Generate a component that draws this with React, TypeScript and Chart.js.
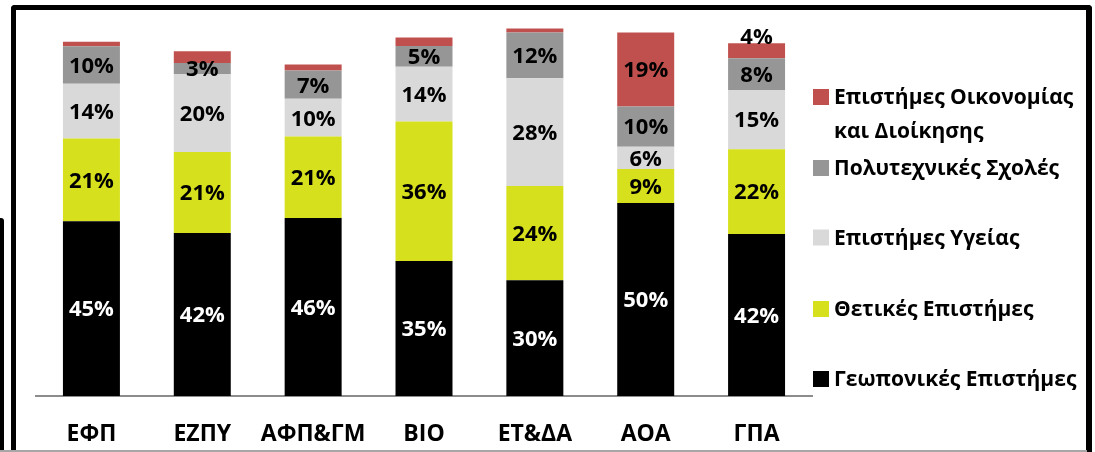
import React, { useEffect, useRef } from "react";
import { Chart, registerables } from "chart.js";

Chart.register(...registerables);

const categories = ["ΕΦΠ", "ΕΖΠΥ", "ΑΦΠ&ΓΜ", "ΒΙΟ", "ΕΤ&ΔΑ", "ΑΟΑ", "ΓΠΑ"];
const geoponikes = [45.3, 42.2, 46.1, 35.0, 30.0, 50.0, 42.0];
const thetikes = [21.4, 21.0, 21.1, 36.1, 24.4, 8.8, 21.9];
const ygeias = [14.2, 20.2, 9.8, 14.2, 27.9, 5.8, 15.4];
const polytexnikes = [9.7, 2.9, 7.3, 5.4, 11.9, 10.4, 8.2];
const oikonomias = [1.2, 3.0, 1.6, 2.2, 1.0, 19.2, 3.9];
const oikonomiasLabels = ["", "", "", "", "", "19%", "4%"];

const seriesNames = [
  "Γεωπονικές Επιστήμες",
  "Θετικές Επιστήμες",
  "Επιστήμες Υγείας",
  "Πολυτεχνικές Σχολές",
  "Επιστήμες Οικονομίας και Διοίκησης",
];

const FONT = "'Open Sans', 'Noto Sans', sans-serif";
const CAP = 0.714;

const pct = (arr: number[]) => arr.map((v) => Math.round(v) + "%");

const valueLabelPlugin = {
  id: "valueLabels",
  afterDatasetsDraw(chart: any) {
    const ctx = chart.ctx;
    const size = 22;
    ctx.save();
    ctx.font = `bold ${size}px ${FONT}`;
    ctx.textAlign = "center";
    ctx.textBaseline = "alphabetic";
    const last = chart.data.datasets.length - 1;
    chart.data.datasets.forEach((ds: any, di: number) => {
      const meta = chart.getDatasetMeta(di);
      meta.data.forEach((bar: any, i: number) => {
        const text = ds.valueText[i];
        if (!text) return;
        const { x, y, base } = bar.getProps(["x", "y", "base"], true);
        let cy = (y + base) / 2;
        if (di === last && Math.abs(base - y) < 20) cy = y - 7;
        ctx.fillStyle = ds.labelColor;
        ctx.fillText(text, x, cy + (size * CAP) / 2);
      });
    });
    ctx.restore();
  },
};

const sideLegendPlugin = {
  id: "sideLegend",
  afterDraw(chart: any) {
    const ctx = chart.ctx;
    const size = 21;
    const rowCenters = [97, 168, 237.5, 309, 379];
    const lineGap = 34;
    const boxX = 813;
    const textX = 834;
    const maxW = 256;
    ctx.save();
    ctx.font = `bold ${size}px ${FONT}`;
    ctx.textAlign = "left";
    ctx.textBaseline = "alphabetic";
    const n = chart.data.datasets.length;
    for (let k = 0; k < n; k++) {
      const ds = chart.data.datasets[n - 1 - k];
      const cy = rowCenters[k];
      ctx.fillStyle = ds.backgroundColor;
      ctx.fillRect(boxX, cy - 8, 16, 16);
      const words = String(ds.label).split(" ");
      const lines: string[] = [];
      let cur = "";
      words.forEach((w) => {
        const t = cur ? cur + " " + w : w;
        if (ctx.measureText(t).width > maxW && cur) {
          lines.push(cur);
          cur = w;
        } else cur = t;
      });
      if (cur) lines.push(cur);
      ctx.fillStyle = "#000";
      lines.forEach((ln, j) => {
        ctx.fillText(ln, textX, cy + j * lineGap + (size * CAP) / 2);
      });
    }
    ctx.restore();
  },
};

export default function App() {
  const ref = useRef<HTMLCanvasElement | null>(null);

  useEffect(() => {
    if (!ref.current) return;
    const mk = (label: string, data: number[], color: string, labelColor: string, text: string[]) => ({
      label,
      data,
      backgroundColor: color,
      borderWidth: 0,
      labelColor,
      valueText: text,
    });
    const chart = new Chart(ref.current, {
      type: "bar",
      data: {
        labels: categories,
        datasets: [
          mk(seriesNames[0], geoponikes, "#000000", "#ffffff", pct(geoponikes)),
          mk(seriesNames[1], thetikes, "#D6E01C", "#000000", pct(thetikes)),
          mk(seriesNames[2], ygeias, "#D9D9D9", "#000000", pct(ygeias)),
          mk(seriesNames[3], polytexnikes, "#969696", "#000000", pct(polytexnikes)),
          mk(seriesNames[4], oikonomias, "#C0504D", "#000000", oikonomiasLabels),
        ] as any,
      },
      options: {
        animation: false,
        responsive: false,
        maintainAspectRatio: false,
        layout: { padding: { left: 36, right: 283, top: 10, bottom: 0 } },
        datasets: { bar: { categoryPercentage: 1, barPercentage: 0.514 } },
        plugins: { legend: { display: false }, tooltip: { enabled: false } },
        scales: {
          x: {
            stacked: true,
            grid: { display: false },
            border: { display: true, color: "#8c8c8c", width: 2 },
            ticks: {
              color: "#000",
              padding: 17,
              font: { family: FONT, size: 23, weight: "bold" },
            },
            afterFit: (scale: any) => {
              scale.height = 56;
            },
          },
          y: {
            stacked: true,
            display: false,
            min: 0,
            max: 100,
          },
        },
      } as any,
      plugins: [valueLabelPlugin, sideLegendPlugin],
    });
    return () => chart.destroy();
  }, []);

  return (
    <div style={{ position: "relative", width: 1095, height: 452, overflow: "hidden", background: "#fff" }}>
      <style>{"body{margin:0}"}</style>
      <canvas ref={ref} width={1095} height={452} style={{ position: "absolute", left: 0, top: 0, width: 1095, height: 452 }} />
      <div
        style={{
          position: "absolute",
          left: 11,
          top: 5,
          width: 1081,
          height: 470,
          boxSizing: "border-box",
          borderTop: "5px solid #000",
          borderLeft: "5px solid #000",
          borderRight: "6px solid #000",
          borderTopLeftRadius: 4,
          borderTopRightRadius: 4,
        }}
      />
      <div style={{ position: "absolute", left: 0, top: 218, width: 4, height: 240, background: "#000", borderTopRightRadius: 3 }} />
      <div style={{ position: "absolute", left: 0, top: 450, width: 1087, height: 2, background: "#a6a6a6" }} />
    </div>
  );
}
